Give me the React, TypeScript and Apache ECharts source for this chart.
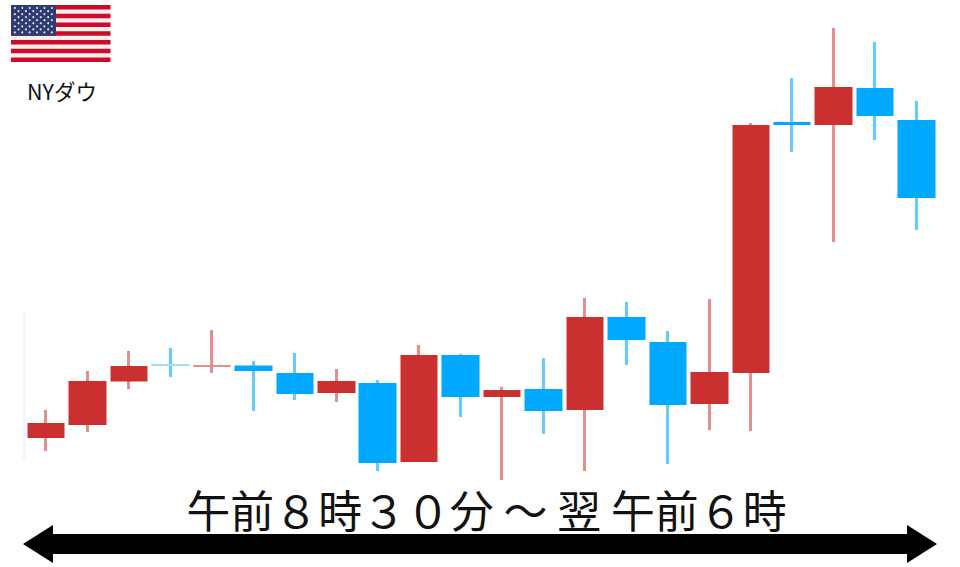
import React, { useEffect, useRef } from "react";
import * as echarts from "echarts";

const categories = ["1","2","3","4","5","6","7","8","9","10","11","12","13","14","15","16","17","18","19","20","21","22"];
const opens = [129, 142, 185.5, 202.5, 200.5, 201.5, 194, 174, 184, 105, 212, 170, 178, 157, 250, 225, 163, 194, 445, 442, 479, 447];
const closes = [144, 186, 201, 201.5, 201.5, 196, 173, 186, 104, 212, 170, 177, 156, 250, 227, 162, 195, 442, 442, 480, 451, 369];
const lows = [116, 135, 178, 190, 194, 156, 167, 165, 96, 105, 150, 87, 133, 96, 202, 103, 137, 136, 415, 325, 427, 337];
const highs = [157, 196, 216, 219, 237, 206, 214, 198, 187, 222, 213, 180, 209, 269, 265, 236, 268, 444, 489, 539, 525, 466];
const headline = "午前８時３０分 ～ 翌 午前６時";
const indexName = "NYダウ";

const RED = "#C9302F";
const BLUE = "#00A8FF";
const RED_WICK = "#E28F8D";
const BLUE_WICK = "#66CBFF";
const FONT = '"Noto Sans CJK JP", "Noto Sans", sans-serif';

function flagElements() {
  const els: any[] = [];
  const x0 = 11, y0 = 5, w = 99.5, h = 57;
  const sh = h / 13;
  els.push({ type: "rect", shape: { x: x0, y: y0, width: w, height: h }, style: { fill: "#F6F0F0" } });
  for (let i = 0; i < 13; i += 2) {
    els.push({ type: "rect", shape: { x: x0, y: y0 + i * sh, width: w, height: sh }, style: { fill: "#CE0A2A" } });
  }
  els.push({ type: "rect", shape: { x: x0, y: y0, width: 45, height: sh * 7 }, style: { fill: "#2F3A70" } });
  for (let r = 0; r < 9; r++) {
    const n = r % 2 === 0 ? 6 : 5;
    for (let c = 0; c < n; c++) {
      els.push({
        type: "circle",
        shape: { cx: x0 + 3.8 + (r % 2 === 0 ? 0 : 3.7) + c * 7.4, cy: y0 + 3 + r * 3.05, r: 1 },
        style: { fill: "#E4E7F0" },
      });
    }
  }
  return els;
}

function arrowPoints() {
  return [
    [23, 544], [53, 525], [53, 534], [907, 534], [907, 525], [937, 544],
    [907, 563], [907, 554], [53, 554], [53, 563],
  ];
}

export default function App() {
  const ref = useRef<HTMLDivElement>(null);
  useEffect(() => {
    const chart = echarts.init(ref.current!, undefined, { renderer: "svg" });
    const wickData = categories.map((_, i) => [opens[i], closes[i], lows[i], highs[i]]);
    const bodyData = categories.map((_, i) => {
      const o = opens[i], c = closes[i];
      const isDoji = Math.abs(o - c) <= 1;
      const value = [o, c, Math.min(o, c), Math.max(o, c)];
      if (!isDoji) return value;
      const col = c > o ? RED_WICK : "#A6E0FF";
      return { value, itemStyle: { color: col, color0: col, borderColor: col, borderColor0: col, borderWidth: 1 } };
    });
    chart.setOption({
      animation: false,
      backgroundColor: "#ffffff",
      grid: { left: 25.4, right: 22.7, top: 0, bottom: 0 },
      xAxis: { type: "category", data: categories, show: false },
      yAxis: { type: "value", min: 0, max: 567, show: false },
      series: [
        {
          type: "candlestick",
          data: wickData,
          barWidth: 1,
          itemStyle: { color: RED_WICK, color0: BLUE_WICK, borderColor: RED_WICK, borderColor0: BLUE_WICK, borderWidth: 3 },
          silent: true,
          z: 2,
        },
        {
          type: "candlestick",
          data: bodyData,
          barWidth: 38,
          itemStyle: { color: RED, color0: BLUE, borderColor: RED, borderColor0: BLUE, borderWidth: 0 },
          silent: true,
          z: 3,
        },
      ],
      graphic: [
        { type: "line", shape: { x1: 24, y1: 312, x2: 24, y2: 460 }, style: { stroke: "#D4EEFC", lineWidth: 1 } },
        ...flagElements(),
        { type: "text", x: 62, y: 90, style: { text: indexName, font: `21.5px ${FONT}`, fill: "#111", align: "center", verticalAlign: "middle" } },
        { type: "text", x: 486.5, y: 509, style: { text: headline, font: `43.9px ${FONT}`, fill: "#111", align: "center", verticalAlign: "middle" } },
        { type: "polygon", shape: { points: arrowPoints() }, style: { fill: "#000" } },
      ],
    });
    return () => chart.dispose();
  }, []);
  return <div ref={ref} style={{ position: "fixed", left: 0, top: 0, width: 960, height: 567 }} />;
}
